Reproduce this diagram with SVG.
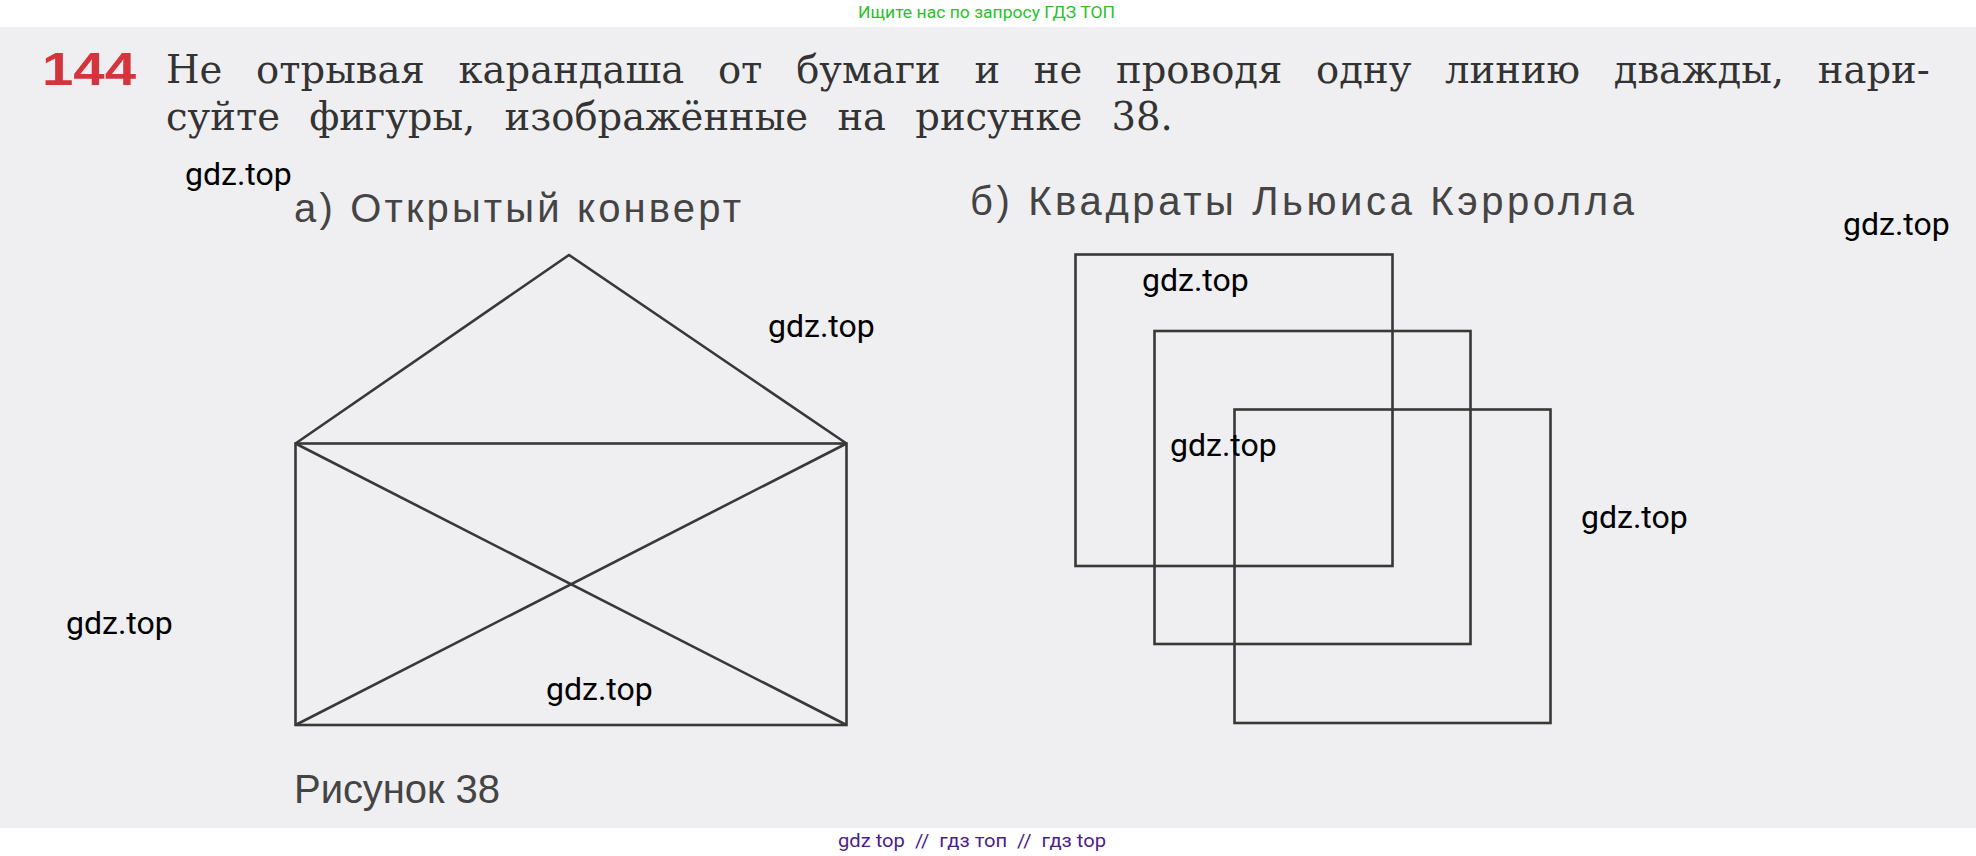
<svg xmlns="http://www.w3.org/2000/svg" width="1976" height="856" viewBox="0 0 1976 856">
<style>
.fig{fill:none;stroke:#383838;stroke-width:2.6;stroke-linejoin:miter}
.wm{font-family:Roboto,"Liberation Sans",sans-serif;font-size:32px;fill:#000}
.cap{font-family:"Liberation Sans",Arial,sans-serif;font-size:40px;fill:#444}
.body{font-family:"DejaVu Serif","Liberation Serif",serif;font-size:38.5px;fill:#333}
</style>
<rect x="0" y="0" width="1976" height="856" fill="#ffffff"/>
<rect x="0" y="27" width="1976" height="801" fill="#efeff1"/>
<text x="858" y="18" font-family="Roboto,'Liberation Sans',sans-serif" font-size="17" fill="#2cc02c" textLength="257" lengthAdjust="spacingAndGlyphs">Ищите нас по запросу ГДЗ ТОП</text>
<g id="header">
<text x="42" y="85" font-family="'Liberation Sans',Arial,sans-serif" font-weight="bold" font-size="46" fill="#d4343c" textLength="94" lengthAdjust="spacingAndGlyphs">144</text>
<text class="body" x="166" y="83" word-spacing="21.5">Не отрывая карандаша от бумаги и не проводя одну линию дважды, нари-</text>
<text class="body" x="166" y="130" word-spacing="17">суйте фигуры, изображённые на рисунке 38.</text>
</g>
<g id="envelope">
<text class="cap" x="294" y="222" textLength="447" lengthAdjust="spacing">а) Открытый конверт</text>
<polyline class="fig" points="295.5,443.5 569,255 846.5,443.5"/>
<rect class="fig" x="295.5" y="443.5" width="551" height="281.5"/>
<line class="fig" x1="295.5" y1="443.5" x2="846.5" y2="725"/>
<line class="fig" x1="846.5" y1="443.5" x2="295.5" y2="725"/>
</g>
<g id="squares">
<text class="cap" x="970" y="215" textLength="664" lengthAdjust="spacing">б) Квадраты Льюиса Кэрролла</text>
<rect class="fig" x="1075.5" y="254.5" width="317" height="311.5"/>
<rect class="fig" x="1154.5" y="331" width="316" height="313"/>
<rect class="fig" x="1234.5" y="409.5" width="316" height="313.5"/>
</g>
<text class="cap" id="caption" x="294" y="803" textLength="206" lengthAdjust="spacing">Рисунок 38</text>
<g id="watermarks">
<text class="wm" x="185" y="185">gdz.top</text>
<text class="wm" x="768" y="337">gdz.top</text>
<text class="wm" x="1142" y="291">gdz.top</text>
<text class="wm" x="1170" y="456">gdz.top</text>
<text class="wm" x="1581" y="528">gdz.top</text>
<text class="wm" x="1843" y="235">gdz.top</text>
<text class="wm" x="66" y="634">gdz.top</text>
<text class="wm" x="546" y="700">gdz.top</text>
</g>
<text x="838" y="847" font-family="Roboto,'Liberation Sans',sans-serif" font-size="18" fill="#4b1d8c" textLength="268" lengthAdjust="spacingAndGlyphs" xml:space="preserve">gdz top  //  гдз топ  //  гдз top</text>
</svg>
